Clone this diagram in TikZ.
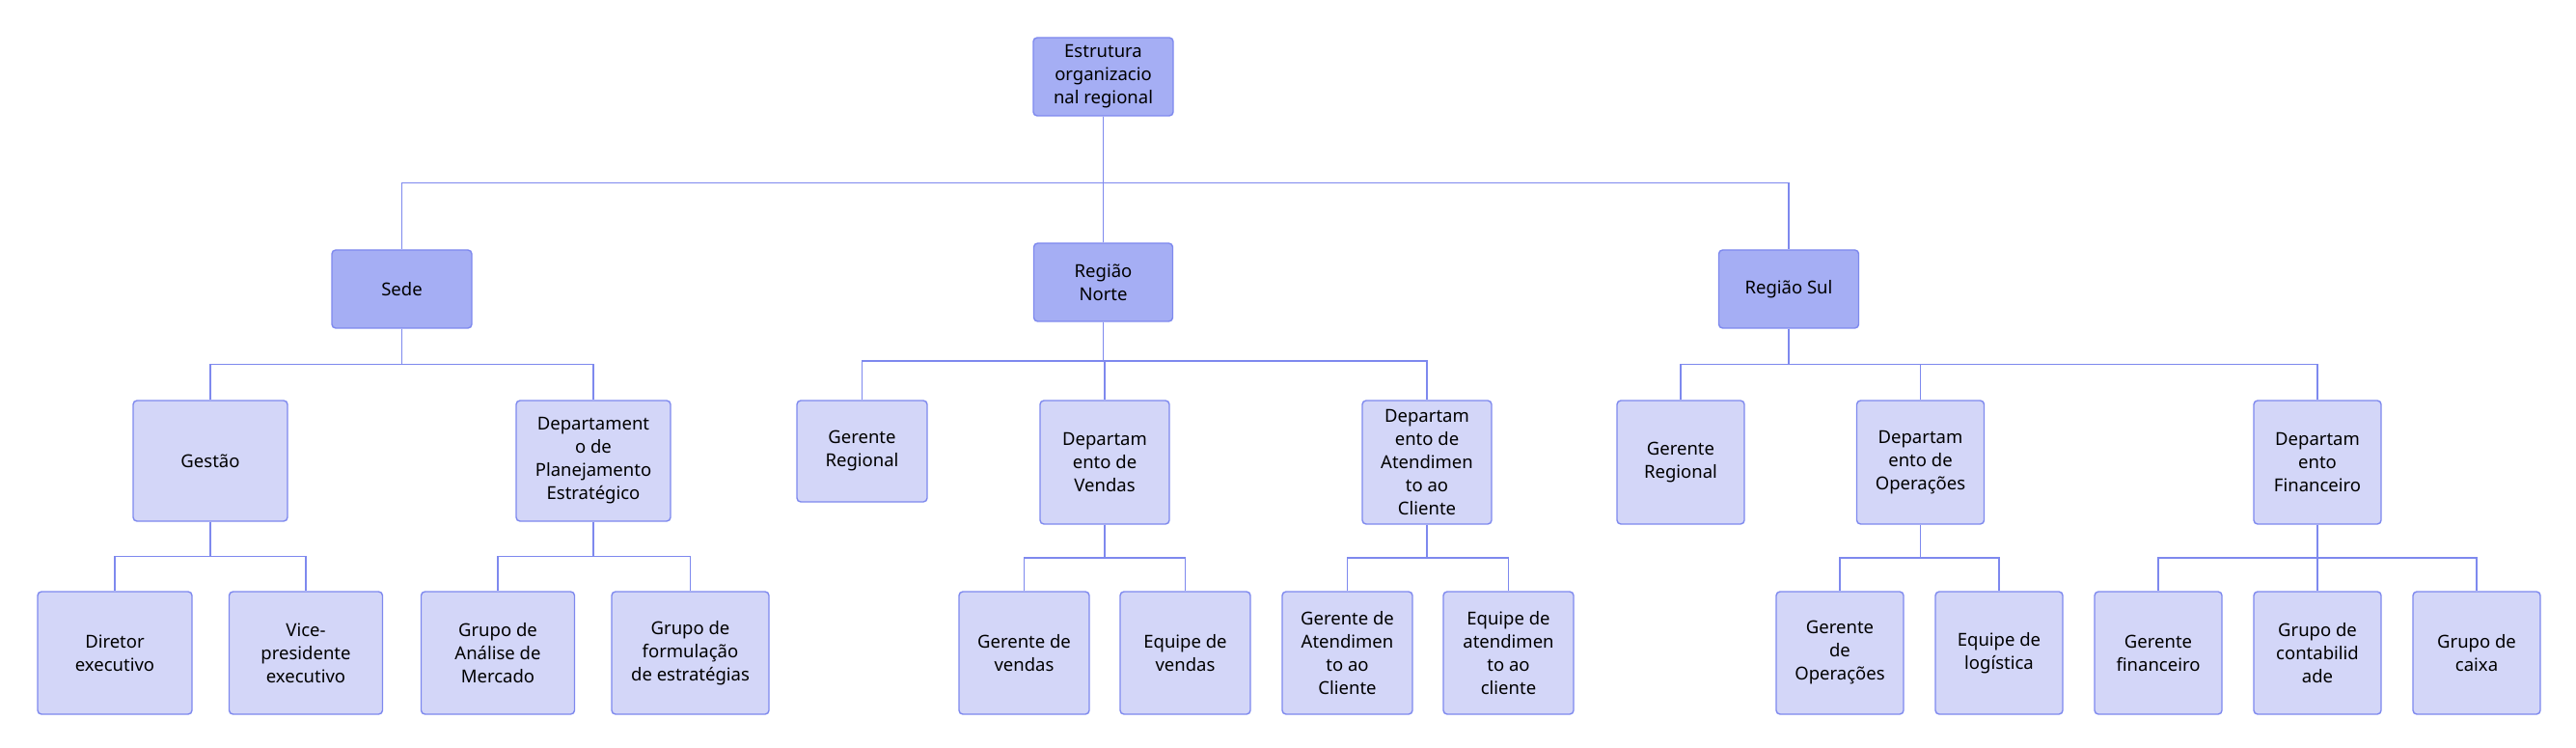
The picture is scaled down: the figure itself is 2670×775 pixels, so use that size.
\documentclass[tikz,border=0pt]{standalone}
\usepackage{fontspec}
\setmainfont{Noto Sans}
\usetikzlibrary{calc}
\definecolor{lineC}{HTML}{7E89EE}
\definecolor{topF}{HTML}{A5AEF4}
\definecolor{subF}{HTML}{D3D6F8}
\tikzset{
  box/.style={draw=lineC, line width=1.4pt, rounded corners=4pt, align=center, inner sep=0pt,
    font=\fontsize{18.5}{24}\selectfont, text=black},
  topbox/.style={box, fill=topF},
  subbox/.style={box, fill=subF},
  conn/.style={draw=lineC, line width=1.4pt},
  bus/.style={to path={-- ($(\tikztostart)!0.5!(\tikztostart|-\tikztotarget)$) -| (\tikztotarget)}}
}
\begin{document}
\begin{tikzpicture}[x=1pt,y=-1pt]
\useasboundingbox (0,0) rectangle (2670,775);
% level 0
\node[topbox, minimum width=145, minimum height=81] (root) at (1143.5,79.5) {Estrutura\\organizacio\\nal regional};
% level 1
\node[topbox, minimum width=145, minimum height=81] (sede) at (416.5,299.5) {Sede};
\node[topbox, minimum width=144, minimum height=81] (norte) at (1143.5,292.5) {Região\\Norte};
\node[topbox, minimum width=145, minimum height=81] (sul) at (1854,299.5) {Região Sul};
% level 2
\node[subbox, minimum width=160, minimum height=125] (gestao) at (218,477.5) {Gestão};
\node[subbox, minimum width=160, minimum height=125] (planej) at (615,477.5) {Departament\\o de\\Planejamento\\Estratégico};
\node[subbox, minimum width=135, minimum height=105] (nger) at (893.5,467.5) {Gerente\\Regional};
\node[subbox, minimum width=134, minimum height=128] (nvend) at (1145,479) {Departam\\ento de\\Vendas};
\node[subbox, minimum width=134, minimum height=128] (natend) at (1479,479) {Departam\\ento de\\Atendimen\\to ao\\Cliente};
\node[subbox, minimum width=132, minimum height=128] (sger) at (1742,479) {Gerente\\Regional};
\node[subbox, minimum width=132, minimum height=128] (sop) at (1990.5,479) {Departam\\ento de\\Operações};
\node[subbox, minimum width=132, minimum height=128] (sfin) at (2402,479) {Departam\\ento\\Financeiro};
% level 3
\node[subbox, minimum width=160, minimum height=127] (dir) at (119,676.5) {Diretor\\executivo};
\node[subbox, minimum width=159, minimum height=127] (vice) at (317,676.5) {Vice-\\presidente\\executivo};
\node[subbox, minimum width=159, minimum height=127] (anal) at (516,676.5) {Grupo de\\Análise de\\Mercado};
\node[subbox, minimum width=163, minimum height=127] (form) at (715.5,676.5) {Grupo de\\formulação\\de estratégias};
\node[subbox, minimum width=135, minimum height=127] (gvend) at (1061.5,676.5) {Gerente de\\vendas};
\node[subbox, minimum width=135, minimum height=127] (evend) at (1228.5,676.5) {Equipe de\\vendas};
\node[subbox, minimum width=135, minimum height=127] (gatend) at (1396.5,676.5) {Gerente de\\Atendimen\\to ao\\Cliente};
\node[subbox, minimum width=135, minimum height=127] (eatend) at (1563.5,676.5) {Equipe de\\atendimen\\to ao\\cliente};
\node[subbox, minimum width=132, minimum height=127] (gop) at (1907,676.5) {Gerente\\de\\Operações};
\node[subbox, minimum width=132, minimum height=127] (elog) at (2072,676.5) {Equipe de\\logística};
\node[subbox, minimum width=132, minimum height=127] (gfin) at (2237,676.5) {Gerente\\financeiro};
\node[subbox, minimum width=132, minimum height=127] (gcont) at (2402,676.5) {Grupo de\\contabilid\\ade};
\node[subbox, minimum width=132, minimum height=127] (gcaixa) at (2567,676.5) {Grupo de\\caixa};
% connectors
\draw[conn] (root.south) to[bus] (sede.north);
\draw[conn] (root.south) to[bus] (sul.north);
\draw[conn] (root.south) -- (norte.north);
\draw[conn] (sede.south) to[bus] (gestao.north);
\draw[conn] (sede.south) to[bus] (planej.north);
\draw[conn] (norte.south) to[bus] (nger.north);
\draw[conn] (norte.south) to[bus] (nvend.north);
\draw[conn] (norte.south) to[bus] (natend.north);
\draw[conn] (sul.south) to[bus] (sger.north);
\draw[conn] (sul.south) to[bus] (sop.north);
\draw[conn] (sul.south) to[bus] (sfin.north);
\draw[conn] (gestao.south) to[bus] (dir.north);
\draw[conn] (gestao.south) to[bus] (vice.north);
\draw[conn] (planej.south) to[bus] (anal.north);
\draw[conn] (planej.south) to[bus] (form.north);
\draw[conn] (nvend.south) to[bus] (gvend.north);
\draw[conn] (nvend.south) to[bus] (evend.north);
\draw[conn] (natend.south) to[bus] (gatend.north);
\draw[conn] (natend.south) to[bus] (eatend.north);
\draw[conn] (sop.south) to[bus] (gop.north);
\draw[conn] (sop.south) to[bus] (elog.north);
\draw[conn] (sfin.south) to[bus] (gfin.north);
\draw[conn] (sfin.south) to[bus] (gcont.north);
\draw[conn] (sfin.south) to[bus] (gcaixa.north);
\end{tikzpicture}
\end{document}
